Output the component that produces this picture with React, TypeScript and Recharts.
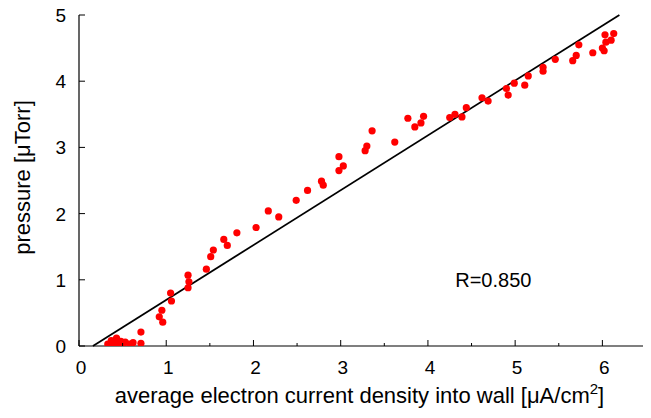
import React from 'react';
import {
  ScatterChart,
  Scatter,
  XAxis,
  YAxis,
  ReferenceLine,
  ReferenceDot,
} from 'recharts';

// measured points: average electron current density [uA/cm2] vs pressure [uTorr]
const currentDensity = [
  0.33, 0.35, 0.37, 0.40, 0.40, 0.43, 0.45, 0.48, 0.50, 0.53, 0.58, 0.62,
  0.71, 0.71, 0.92, 0.95, 0.96, 1.05, 1.06, 1.25, 1.26, 1.25,
  1.46, 1.51, 1.54, 1.66, 1.70, 1.81, 2.03, 2.17, 2.29, 2.49, 2.62,
  2.78, 2.80, 2.98, 3.03, 2.98, 3.28, 3.30, 3.36, 3.62, 3.77, 3.85,
  3.92, 3.95, 4.25, 4.31, 4.39, 4.44, 4.62, 4.69, 4.90, 4.92, 4.99,
  5.11, 5.15, 5.32, 5.32, 5.46, 5.66, 5.70, 5.73, 5.89, 6.00, 6.02,
  6.03, 6.04, 6.10, 6.13,
];
const pressure = [
  0.03, 0.01, 0.08, 0.02, 0.06, 0.12, 0.05, 0.07, 0.02, 0.06, 0.03, 0.05,
  0.21, 0.04, 0.44, 0.54, 0.36, 0.80, 0.68, 1.07, 0.97, 0.88,
  1.16, 1.35, 1.45, 1.61, 1.52, 1.71, 1.79, 2.04, 1.95, 2.20, 2.35,
  2.49, 2.43, 2.86, 2.72, 2.65, 2.95, 3.02, 3.25, 3.08, 3.44, 3.31,
  3.37, 3.47, 3.45, 3.50, 3.46, 3.60, 3.75, 3.70, 3.89, 3.79, 3.97,
  3.94, 4.08, 4.21, 4.15, 4.33, 4.31, 4.39, 4.55, 4.43, 4.50, 4.46,
  4.70, 4.59, 4.62, 4.72,
];

// linear fit, drawn from where it crosses 0 to where it leaves the top
const fitStart = { x: 0.16, y: 0 };
const fitEnd = { x: 6.195, y: 5 };
const correlation = 'R=0.850';

const xTicks = [0, 0.5, 1, 1.5, 2, 2.5, 3, 3.5, 4, 4.5, 5, 5.5, 6, 6.5];
const yTicks = [0, 1, 2, 3, 4, 5];

const points = currentDensity.map((x, i) => ({ x, y: pressure[i] }));

const FONT = '"Liberation Sans", Arial, Helvetica, sans-serif';
const MAJOR = 6;
const MINOR = 3;

const isMajor = (v: number) => Number.isInteger(v);

const BottomTick = (props: any) => {
  const { x, y, payload } = props;
  const len = isMajor(payload.value) ? MAJOR : MINOR;
  return (
    <g>
      <line x1={x} y1={y} x2={x} y2={y - len} stroke="#000" strokeWidth={1} />
      {isMajor(payload.value) && (
        <text x={x + 2} y={y + 28} textAnchor="middle" fontSize={19} fontFamily={FONT} fill="#000">
          {payload.value}
        </text>
      )}
    </g>
  );
};

const TopTick = (props: any) => {
  const { x, y, payload } = props;
  const len = isMajor(payload.value) ? MAJOR : MINOR;
  return <line x1={x} y1={y} x2={x} y2={y + len} stroke="#000" strokeWidth={1} />;
};

const LeftTick = (props: any) => {
  const { x, y, payload } = props;
  return (
    <g>
      <line x1={x} y1={y} x2={x + MAJOR} y2={y} stroke="#000" strokeWidth={1} />
      <text x={x - 13} y={y + 7} textAnchor="end" fontSize={19} fontFamily={FONT} fill="#000">
        {payload.value}
      </text>
    </g>
  );
};

const RightTick = (props: any) => {
  const { x, y } = props;
  return <line x1={x} y1={y} x2={x - MAJOR} y2={y} stroke="#000" strokeWidth={1} />;
};

const XTitle = (props: any) => {
  const { viewBox } = props;
  return (
    <text
      x={viewBox.x + viewBox.width / 2 - 3}
      y={viewBox.y + 57}
      textAnchor="middle"
      fontSize={22}
      fontFamily={FONT}
      fill="#000"
    >
      average electron current density into wall [μA/cm
      <tspan fontSize={15} dy={-9}>2</tspan>
      <tspan dy={9}>]</tspan>
    </text>
  );
};

const YTitle = (props: any) => {
  const { viewBox } = props;
  const cx = viewBox.x + 22;
  const cy = viewBox.y + viewBox.height / 2 - 3;
  return (
    <text
      x={cx}
      y={cy}
      transform={`rotate(-90, ${cx}, ${cy})`}
      textAnchor="middle"
      dominantBaseline="central"
      fontSize={22}
      fontFamily={FONT}
      fill="#000"
    >
      pressure [μTorr]
    </text>
  );
};

export default function App() {
  return (
    <div style={{ margin: -8 }}>
      <ScatterChart
        width={651}
        height={418}
        margin={{ top: 15, right: 5, bottom: 0, left: 0 }}
        style={{ fontFamily: FONT }}
      >
        <XAxis
          xAxisId="bottom"
          type="number"
          dataKey="x"
          orientation="bottom"
          domain={[0, 6.5]}
          ticks={xTicks}
          interval={0}
          allowDataOverflow
          height={72}
          tickSize={0}
          tickMargin={0}
          tick={<BottomTick />}
          axisLine={{ stroke: '#000', strokeWidth: 1.2 }}
          label={{ content: <XTitle /> }}
        />
        <XAxis
          xAxisId="top"
          type="number"
          orientation="top"
          domain={[0, 6.5]}
          ticks={xTicks}
          interval={0}
          allowDataOverflow
          height={0}
          tickSize={0}
          tickMargin={0}
          tick={<TopTick />}
          axisLine={{ stroke: '#000', strokeWidth: 1.2 }}
        />
        <YAxis
          yAxisId="left"
          type="number"
          dataKey="y"
          orientation="left"
          domain={[0, 5]}
          ticks={yTicks}
          interval={0}
          allowDataOverflow
          width={79}
          tickSize={0}
          tickMargin={0}
          tick={<LeftTick />}
          axisLine={{ stroke: '#000', strokeWidth: 1.2 }}
          label={{ content: <YTitle /> }}
        />
        <YAxis
          yAxisId="right"
          type="number"
          orientation="right"
          domain={[0, 5]}
          ticks={yTicks}
          interval={0}
          allowDataOverflow
          width={0}
          tickSize={0}
          tickMargin={0}
          tick={<RightTick />}
          axisLine={{ stroke: '#000', strokeWidth: 1.2 }}
        />
        <ReferenceLine
          xAxisId="bottom"
          yAxisId="left"
          segment={[fitStart, fitEnd]}
          stroke="#000"
          strokeWidth={1.8}
          ifOverflow="visible"
        />
        <Scatter
          xAxisId="bottom"
          yAxisId="left"
          data={points}
          fill="#ff0000"
          isAnimationActive={false}
          shape={(p: any) => <circle cx={p.cx} cy={p.cy} r={3.6} fill="#ff0000" />}
        />
        <ReferenceDot
          xAxisId="bottom"
          yAxisId="left"
          x={4.75}
          y={1.0}
          r={0}
          fill="none"
          stroke="none"
          label={{ value: correlation, position: 'center', fill: '#000', fontSize: 20, fontFamily: FONT }}
        />
      </ScatterChart>
    </div>
  );
}
